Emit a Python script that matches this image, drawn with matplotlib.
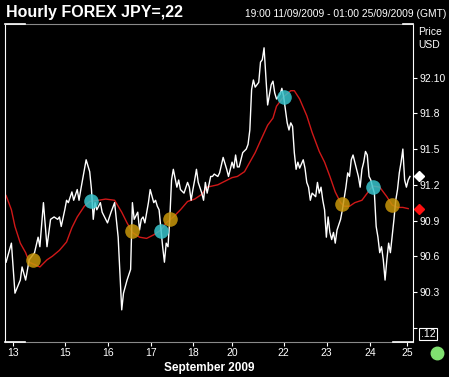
import matplotlib
matplotlib.use("Agg")
import matplotlib.pyplot as plt
from matplotlib.lines import Line2D

plt.rcParams["font.family"] = ["Liberation Sans", "DejaVu Sans"]

# hourly prices (trading hours since 19:00 11/09, weekend removed)
price_hours = [0, 3, 5, 8, 9, 11, 13, 16, 18, 19,
               21, 23, 25, 27, 29, 30, 31, 33, 34, 35,
               37, 38, 40, 41, 42, 44, 45, 47, 48, 49,
               50, 51, 53, 54, 57, 59, 61, 63, 64, 65,
               66, 68, 70, 71, 72, 74, 75, 76, 77, 78,
               80, 81, 83, 84, 85, 86, 88, 89, 90, 91,
               92, 93, 94, 96, 97, 98, 100, 102, 103, 104,
               105, 106, 107, 108, 110, 111, 112, 113, 115, 116,
               117, 119, 120, 122, 124, 125, 127, 128, 129, 130,
               131, 133, 135, 136, 137, 138, 139, 140, 142, 143,
               144, 145, 147, 149, 150, 151, 152, 154, 155, 156,
               157, 158, 159, 160, 161, 162, 163, 164, 165, 167,
               168, 169, 170, 171, 172, 174, 175, 176, 177, 178,
               179, 180, 181, 182, 183, 184, 185, 186, 188, 189,
               191, 192, 193, 194, 195, 196, 197, 198, 199, 200,
               201, 202, 203, 204, 205, 206, 207, 208, 209, 210,
               211, 212, 213, 214, 215, 216, 218, 219, 220, 221,
               222, 223, 224, 225, 226, 227]
price_vals = [90.55, 90.71, 90.29, 90.40, 90.51, 90.40, 90.57, 90.63, 90.76, 90.68,
              91.05, 90.68, 90.91, 90.93, 90.91, 90.93, 90.85, 90.99, 91.07, 91.05,
              91.14, 91.07, 91.16, 91.07, 91.16, 91.33, 91.41, 91.31, 91.16, 90.91,
              91.05, 90.99, 91.05, 90.97, 90.88, 90.97, 91.05, 90.76, 90.46, 90.15,
              90.29, 90.40, 90.49, 91.05, 90.91, 90.97, 90.82, 90.91, 90.93, 90.88,
              91.05, 91.16, 91.05, 91.07, 91.02, 90.99, 90.68, 90.55, 90.71, 90.68,
              90.91, 91.24, 91.33, 91.18, 91.24, 91.16, 91.13, 91.22, 91.18, 91.07,
              91.16, 91.24, 91.33, 91.22, 91.13, 91.07, 91.22, 91.13, 91.27, 91.27,
              91.29, 91.27, 91.30, 91.43, 91.33, 91.27, 91.39, 91.34, 91.45, 91.35,
              91.35, 91.47, 91.50, 91.54, 91.66, 92.00, 92.08, 92.02, 92.06, 92.23,
              92.25, 92.35, 91.87, 92.04, 92.07, 91.97, 91.92, 91.96, 92.01, 91.94,
              91.83, 91.72, 91.66, 91.72, 91.69, 91.47, 91.33, 91.39, 91.34, 91.41,
              91.34, 91.22, 91.18, 91.07, 91.13, 91.10, 91.22, 91.13, 91.18, 91.07,
              90.99, 90.76, 90.93, 90.80, 90.74, 90.80, 90.71, 90.82, 90.91, 90.99,
              91.18, 91.30, 91.27, 91.41, 91.45, 91.39, 91.33, 91.27, 91.18, 91.33,
              91.39, 91.48, 91.45, 91.27, 91.24, 91.18, 91.13, 90.85, 90.76, 90.63,
              90.68, 90.57, 90.40, 90.57, 90.71, 90.63, 90.91, 91.07, 91.16, 91.30,
              91.39, 91.50, 91.24, 91.18, 91.24, 91.27]

# moving average (red)
ma_hours = [0, 3, 5, 8, 11, 13, 16, 19, 23, 26,
            30, 34, 37, 40, 44, 47, 52, 56, 61, 65,
            68, 71, 75, 79, 83, 87, 90, 94, 98, 102,
            106, 110, 113, 119, 123, 127, 130, 134, 137, 140,
            143, 147, 150, 152, 156, 160, 162, 165, 169, 172,
            176, 179, 182, 185, 188, 190, 193, 196, 200, 203,
            206, 210, 214, 217, 220, 223, 226]
ma_vals = [91.11, 90.99, 90.85, 90.71, 90.63, 90.55, 90.53, 90.51, 90.57, 90.60,
           90.65, 90.72, 90.84, 90.93, 91.02, 91.06, 91.07, 91.08, 91.07, 90.97,
           90.88, 90.80, 90.76, 90.75, 90.78, 90.82, 90.88, 90.93, 90.99, 91.06,
           91.08, 91.12, 91.18, 91.20, 91.23, 91.26, 91.27, 91.31, 91.39, 91.47,
           91.57, 91.70, 91.76, 91.86, 91.94, 91.99, 91.99, 91.92, 91.78, 91.64,
           91.48, 91.39, 91.27, 91.14, 91.05, 91.02, 91.02, 91.05, 91.07, 91.13,
           91.19, 91.18, 91.10, 91.03, 91.01, 91.01, 91.00]

# crossover signals
cross_hours = [15, 48, 71, 87, 92, 156, 189, 206, 217]
cross_vals = [90.57, 91.06, 90.81, 90.81, 90.91, 91.94, 91.04, 91.18, 91.03]
cross_kind = ["up", "down", "up", "down", "up", "down", "up", "down", "up"]

# axis ticks
day_ticks = [3.8, 33.1, 57.1, 81.3, 105.2, 127.1, 156.0, 180.2, 204.5, 225.4]
day_labels = ["13", "15", "16", "17", "18", "20", "22", "23", "24", "25"]
price_ticks = [92.1, 91.8, 91.5, 91.2, 90.9, 90.6, 90.3, 90.0]
price_labels = ["92.10", "91.8", "91.5", "91.2", "90.9", "90.6", "90.3", ""]

fig = plt.figure(figsize=(4.49, 3.77), dpi=100, facecolor="black")
ax = fig.add_axes([5 / 449, 35 / 377, 408 / 449, 318 / 377])
ax.set_facecolor("black")

ax.plot(price_hours, price_vals, color="white", lw=1.0, zorder=3)
ax.plot(ma_hours, ma_vals, color="#d01818", lw=1.0, zorder=2)

colors = {"up": "#c8960a", "down": "#38c4cc"}
for h, v, k in zip(cross_hours, cross_vals, cross_kind):
    ax.plot(h, v, "o", ms=10.5, color=colors[k], alpha=0.85, mec="none", zorder=4)

# last values markers outside the frame
tr = ax.get_yaxis_transform()
ax.plot(1.015, price_vals[-1], "D", ms=5, color="white", transform=tr, clip_on=False)
ax.plot(1.015, ma_vals[-1], "D", ms=5, color="#ff1010", transform=tr, clip_on=False)

ax.set_xlim(-0.6, 228.7)
ax.set_ylim(89.88, 92.55)

ax.yaxis.tick_right()
ax.set_yticks(price_ticks)
ax.set_yticklabels(price_labels)
ax.set_xticks(day_ticks)
ax.set_xticklabels(day_labels)
ax.tick_params(colors="white", labelcolor="white", labelsize=7.5, length=3,
               width=0.8, pad=1.5)
ax.tick_params(axis="y", pad=2)

# frame: white sides, grey top/bottom with white corners
for s in ["left", "right"]:
    ax.spines[s].set_color("white")
for s in ["top", "bottom"]:
    ax.spines[s].set_color("#8a8a8a")
for xs, y in [([0, 0.05], 1), ([0.975, 1], 1), ([0, 0.05], 0), ([0.95, 1], 0)]:
    ax.plot(xs, [y, y], color="white", lw=1.2, transform=ax.transAxes,
            clip_on=False, zorder=5)

fig.text(6 / 449, 1 - 12 / 377, "Hourly FOREX JPY=,22", color="white",
         fontsize=11.5, fontweight="bold", va="center")
fig.text(446 / 449, 1 - 14 / 377, "19:00 11/09/2009 - 01:00 25/09/2009 (GMT)",
         color="white", fontsize=7.4, ha="right", va="center")
fig.text(418 / 449, 1 - 32 / 377, "Price", color="white", fontsize=7.5, va="center")
fig.text(418 / 449, 1 - 45 / 377, "USD", color="white", fontsize=7.5, va="center")
fig.text(428 / 449, 1 - 334 / 377, ".12", color="white", fontsize=7.5,
         ha="center", va="center",
         bbox=dict(facecolor="black", edgecolor="white", lw=0.8, pad=1))
fig.text(209 / 449, 1 - 368 / 377, "September 2009", color="white",
         fontsize=8.5, fontweight="bold", ha="center", va="center")

fig.add_artist(Line2D([437 / 449], [1 - 353 / 377], marker="o", ms=9,
                      color="#80e070", transform=fig.transFigure))

fig.savefig("out.png", dpi=100, facecolor="black")
